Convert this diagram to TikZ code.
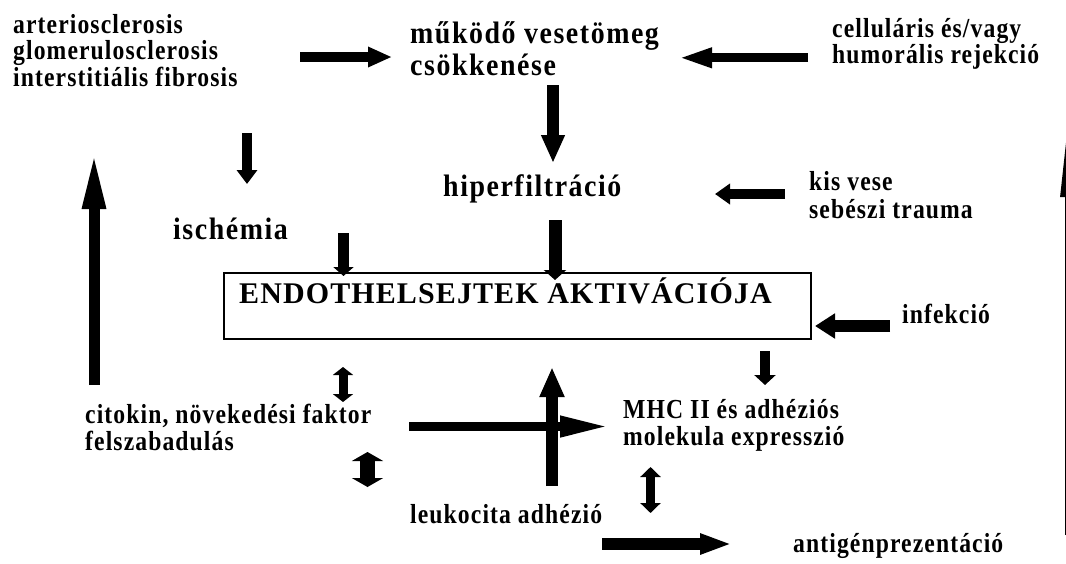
\documentclass[tikz,border=0pt]{standalone}
\usepackage{fontspec}
\setmainfont{Liberation Serif}
\usetikzlibrary{arrows.meta}

\begin{document}
\begin{tikzpicture}[x=1pt,y=-1pt,
  txt/.style={font=\fontsize{27.5}{26.5}\selectfont\bfseries\addfontfeature{LetterSpace=4,FakeStretch=0.86},
    anchor=base west,align=left,inner sep=0pt},
  big/.style={txt,font=\fontsize{31}{32}\selectfont\bfseries\addfontfeature{LetterSpace=5,FakeStretch=0.9}},
  blk/.style n args={3}{line width=#1pt,-{Triangle[length=#2pt,width=#3pt]}},
  dblk/.style n args={3}{line width=#1pt,{Triangle[length=#2pt,width=#3pt]}-{Triangle[length=#2pt,width=#3pt]}}]
\useasboundingbox (0,0) rectangle (1066,563);

\node[txt] (scler) at (13,86) {arteriosclerosis\\glomerulosclerosis\\interstitiális fibrosis};
\node[big] (mass) at (410,75) {működő vesetömeg\\csökkenése};
\node[txt] (rej) at (832,63.5) {celluláris és/vagy\\humorális rejekció};
\node[big] (hyper) at (443,196) {hiperfiltráció};
\node[txt,font=\fontsize{27.5}{28}\selectfont\bfseries\addfontfeature{LetterSpace=4,FakeStretch=0.86}] (kis) at (809,218) {kis vese\\sebészi trauma};
\node[big] (isch) at (173,239) {ischémia};
\node[draw,line width=2pt,minimum width=587pt,minimum height=66pt,inner sep=0pt,anchor=north west] (box) at (223,272) {};
\node[txt,font=\fontsize{30}{32}\selectfont\bfseries\addfontfeature{LetterSpace=3.7}] (endo) at ([shift={(16,31)}]box.north west) {ENDOTHELSEJTEK AKTIVÁCIÓJA};
\node[txt] (inf) at (902,323) {infekció};
\node[txt] (cito) at (85,450) {citokin, növekedési faktor\\felszabadulás};
\node[txt] (mhc) at (623,445) {MHC II és adhéziós\\molekula expresszió};
\node[txt] (leuko) at (410,523) {leukocita adhézió};
\node[txt] (antigen) at (793,552) {antigénprezentáció};

\foreach \n/\x/\y in {a1s/300/57,a1e/392/57,a2s/808/57.8,a2e/678/57.8,a3s/553/85,a3e/553/163,
  a4s/247/133,a4e/247/184,a5s/343.5/233,a6s/555/220,a7s/785/194,a7e/715/194,a8s/890/326,
  a9s/765/351,a9e/765/385,a10s/343/367,a10e/343/402,a11s/367.5/452,a11e/367.5/487,
  a12s/409/426.5,a12e/611/426.5,a13s/552/486,a13e/552/367,a14s/650.5/467,a14e/650.5/513,
  a15s/602/544,a15e/732/544,a16s/94/385,a16e/94/150,a17s/1068/535,a17e/1068/118}
  \coordinate (\n) at (\x,\y);

\foreach \f/\t/\w/\l/\h in {a1s/a1e/10.6/24/19,a2s/a2e/9/34/18,a3s/a3e/12/28/22,a4s/a4e/10/14/20,
  a7s/a7e/10/15/20,a9s/a9e/10/10/21,a12s/a12e/9.5/51/19,a13s/a13e/12.5/30/23,
  a15s/a15e/12/32/19,a16s/a16e/11/59/21,a17s/a17e/6/79/14}
  \draw[blk={\w}{\l}{\h}] (\f) -- (\t);
\draw[blk={11}{9}{20}] (a5s) -- ([yshift=-4pt]a5s |- box.north);
\draw[blk={13}{10}{22}] (a6s) -- ([yshift=-8pt]a6s |- box.north);
\draw[blk={12}{20}{24}] (a8s) -- ([xshift=3pt]a8s -| box.east);
\foreach \f/\t/\w/\l/\h in {a10s/a10e/9/8/20,a11s/a11e/15/9/31,a14s/a14e/9/10/20}
  \draw[dblk={\w}{\l}{\h}] (\f) -- (\t);
\end{tikzpicture}
\end{document}
